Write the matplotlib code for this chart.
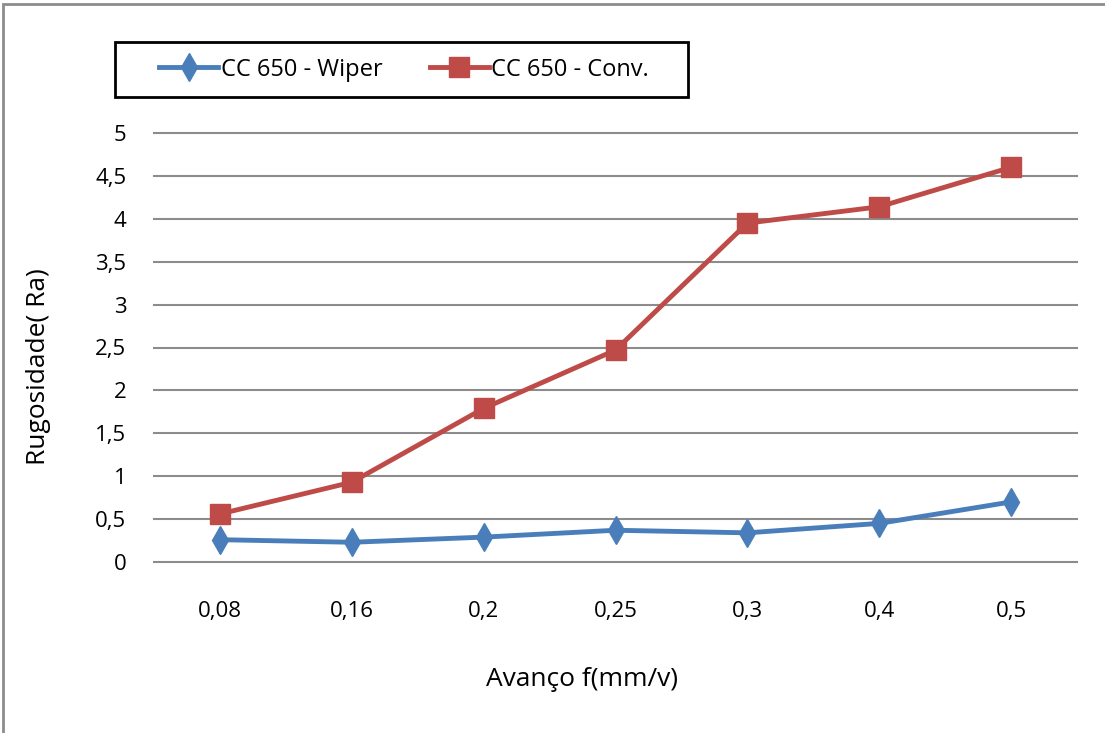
import matplotlib.pyplot as plt
from matplotlib.patches import Rectangle

plt.rcParams['font.family'] = ['Open Sans', 'DejaVu Sans']

avanco = ['0,08', '0,16', '0,2', '0,25', '0,3', '0,4', '0,5']
wiper = [0.26, 0.23, 0.29, 0.37, 0.34, 0.45, 0.70]
conv = [0.56, 0.93, 1.79, 2.47, 3.95, 4.14, 4.60]
yticks = [0, 0.5, 1, 1.5, 2, 2.5, 3, 3.5, 4, 4.5, 5]
ytick_labels = ['0', '0,5', '1', '1,5', '2', '2,5', '3', '3,5', '4', '4,5', '5']

W, H = 1105, 733
fig = plt.figure(figsize=(W / 100, H / 100), dpi=100)
ax = fig.add_axes([154 / W, 1 - 562 / H, 923 / W, 429 / H])

# chart frame (top and left edges visible)
fig.patches.append(Rectangle((3 / W, -0.1), 1.2, 1 - 4 / H + 0.1,
                             transform=fig.transFigure, fill=False,
                             edgecolor='#8c8c8c', linewidth=2))
# legend box
fig.patches.append(Rectangle((115 / W, 1 - 97 / H), 573 / W, 55 / H,
                             transform=fig.transFigure, fill=False,
                             edgecolor='black', linewidth=2, zorder=5))

x = range(len(avanco))
ax.plot(x, wiper, color='#4A7EBB', lw=3.5, marker='d', ms=14,
        label='CC 650 - Wiper', zorder=3)
ax.plot(x, conv, color='#BE4B48', lw=3.5, marker='s', ms=15,
        label='CC 650 - Conv.', zorder=3)

ax.set_xlim(-0.5, len(avanco) - 0.5)
ax.set_ylim(0, 5)
ax.set_xticks(list(x))
ax.set_xticklabels(avanco)
ax.set_yticks(yticks)
ax.set_yticklabels(ytick_labels)
ax.tick_params(length=0, labelsize=16, pad=20)
ax.tick_params(axis='x', pad=28)
ax.yaxis.grid(True, color='#8c8c8c', lw=1.5)
ax.set_axisbelow(True)
for s in ax.spines.values():
    s.set_visible(False)
for line in ax.get_ygridlines():
    line.set_clip_on(False)

ax.set_ylabel('Rugosidade( Ra)', fontsize=19)
ax.yaxis.set_label_coords(-0.112, 0.455)
ax.set_xlabel('Avanço f(mm/v)', fontsize=19)
ax.xaxis.set_label_coords(0.464, -0.245)

fig.legend(loc='center', bbox_to_anchor=(404 / W, 1 - 69.5 / H),
           ncol=2, fontsize=17, frameon=False, handlelength=2.5,
           columnspacing=2.0, borderaxespad=0, handletextpad=0.1)

fig.savefig('out.png', dpi=100)
